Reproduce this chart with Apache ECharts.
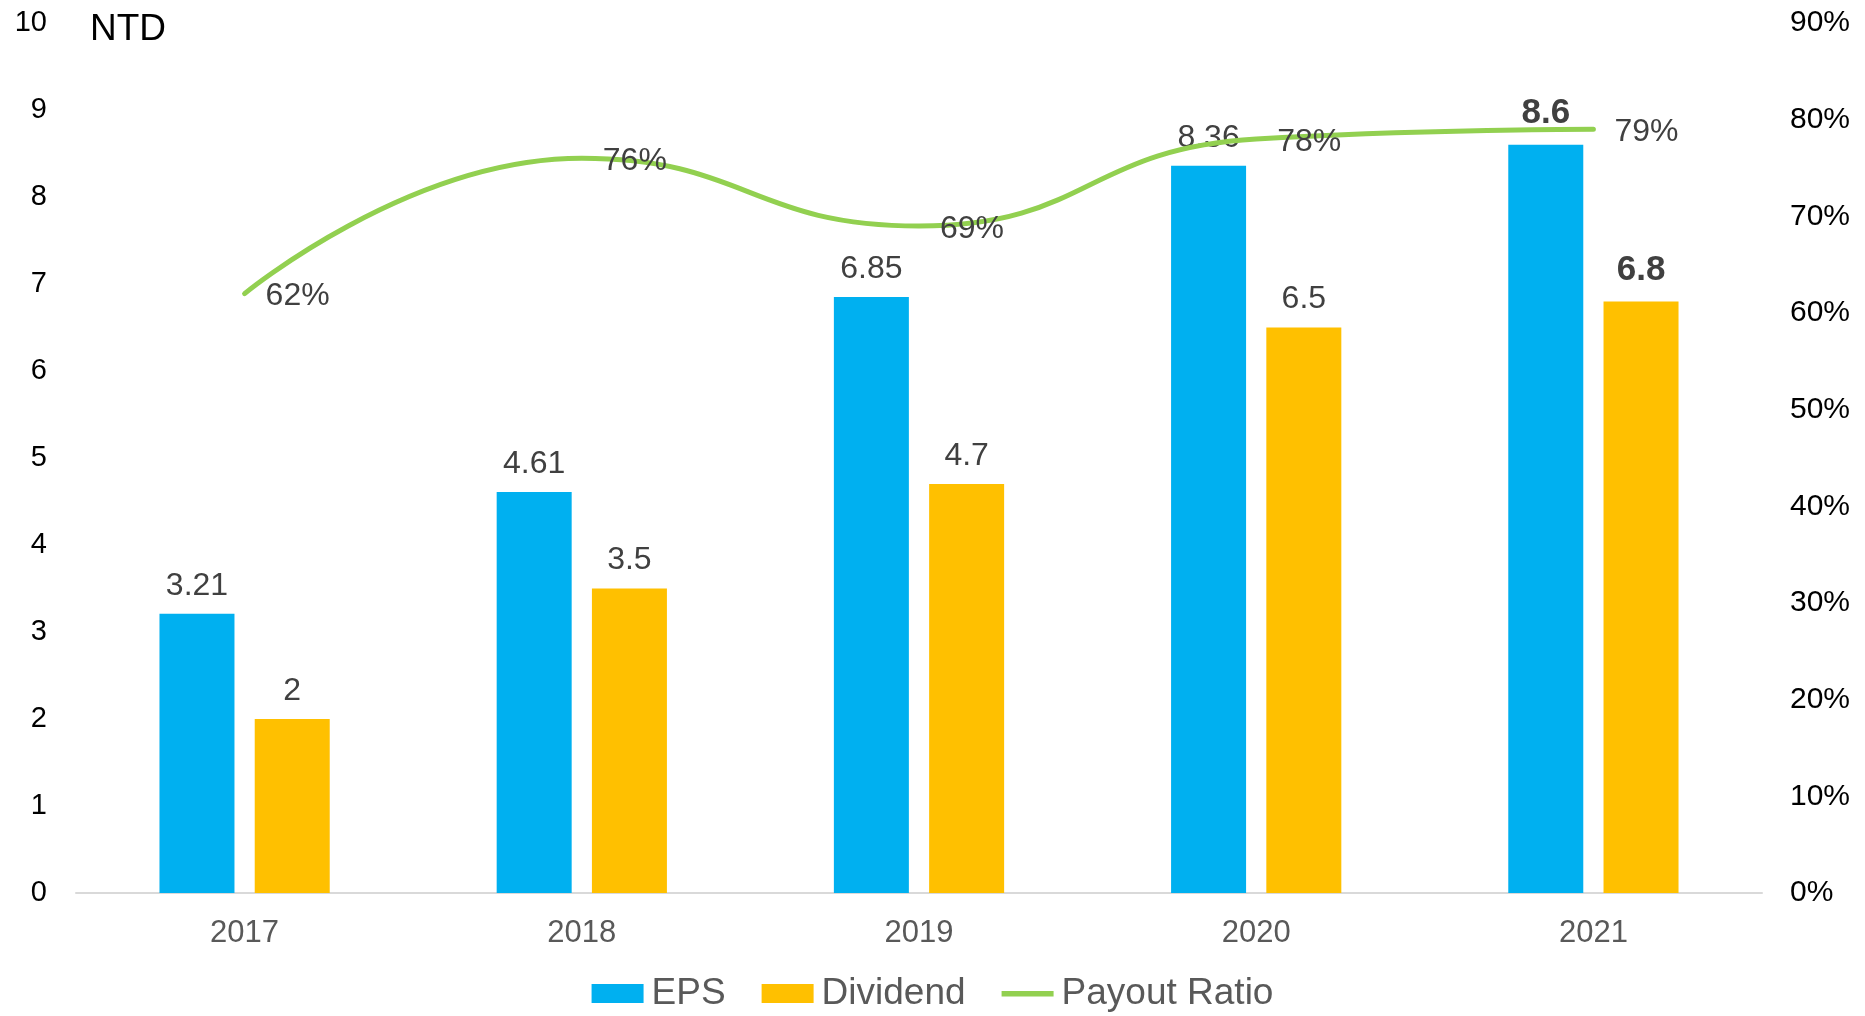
<!DOCTYPE html>
<html>
<head>
<meta charset="utf-8">
<script src="https://cdn.jsdelivr.net/npm/echarts@6/dist/echarts.min.js"></script>
<style>
html,body{margin:0;padding:0;background:#fff;}
#chart{width:1865px;height:1016px;}
</style>
</head>
<body>
<div id="chart"></div>
<script>
const years = ['2017', '2018', '2019', '2020', '2021'];
const eps = [3.21, 4.61, 6.85, 8.36, 8.6];
const dividend = [2, 3.5, 4.7, 6.5, 6.8];
const payoutRatio = [62, 76, 69, 78, 79];
const leftTicks = [0, 10, 1];
const rightTicks = [0, 90, 10];

const FONT = '"Liberation Sans", Arial, sans-serif';
const boldLast = (arr) => arr.map((v, i) => i === arr.length - 1
  ? { value: v, label: { fontWeight: 'bold', fontSize: 35, distance: 14 } }
  : v);

const chart = echarts.init(document.getElementById('chart'));
chart.setOption({
  animation: false,
  textStyle: { fontFamily: FONT },
  title: {
    text: 'NTD', left: 90, top: 11, padding: 0,
    textStyle: { fontFamily: FONT, fontSize: 37, fontWeight: 'normal', color: '#000' }
  },
  grid: { left: 76, right: 103, top: 23, bottom: 123, containLabel: false },
  legend: {
    top: 975, left: 'center', padding: 0,
    itemWidth: 52, itemHeight: 19, itemGap: 36,
    textStyle: { fontFamily: FONT, fontSize: 37, color: '#595959', padding: [0, 0, 0, 3] },
    data: [
      { name: 'EPS', icon: 'rect' },
      { name: 'Dividend', icon: 'rect' },
      { name: 'Payout Ratio', icon: 'path://M0,0 L1,0 M0,7 L52,7 L52,12.5 L0,12.5 Z M0,19 L1,19' }
    ]
  },
  xAxis: {
    type: 'category', data: years,
    axisLine: { lineStyle: { color: '#D9D9D9', width: 2 } },
    axisTick: { show: false },
    axisLabel: { fontFamily: FONT, fontSize: 31, color: '#595959', margin: 25 }
  },
  yAxis: [
    {
      type: 'value', min: leftTicks[0], max: leftTicks[1], interval: leftTicks[2],
      splitLine: { show: false }, axisLine: { show: false }, axisTick: { show: false },
      axisLabel: { fontFamily: FONT, fontSize: 29, color: '#000', margin: 29 }
    },
    {
      type: 'value', min: rightTicks[0], max: rightTicks[1], interval: rightTicks[2],
      splitLine: { show: false }, axisLine: { show: false }, axisTick: { show: false },
      axisLabel: { fontFamily: FONT, fontSize: 30, color: '#000', margin: 28, formatter: '{value}%' }
    }
  ],
  series: [
    {
      name: 'EPS', type: 'bar', yAxisIndex: 0, data: boldLast(eps),
      barWidth: 75, barGap: '27%',
      itemStyle: { color: '#00B0F0' },
      label: { show: true, position: 'top', distance: 12, fontFamily: FONT, fontSize: 32, color: '#404040' }
    },
    {
      name: 'Dividend', type: 'bar', yAxisIndex: 0, data: boldLast(dividend),
      barWidth: 75,
      itemStyle: { color: '#FFC000' },
      label: { show: true, position: 'top', distance: 12, fontFamily: FONT, fontSize: 32, color: '#404040' }
    },
    {
      name: 'Payout Ratio', type: 'line', yAxisIndex: 1, data: payoutRatio,
      smooth: 0.5, symbol: 'circle', symbolSize: 2,
      lineStyle: { color: '#92D050', width: 5, cap: 'round' },
      itemStyle: { color: '#92D050' },
      label: {
        show: true, position: 'right', distance: 20, offset: [0, 3],
        formatter: '{c}%', fontFamily: FONT, fontSize: 32, color: '#404040'
      },
      z: 3
    }
  ]
});
</script>
</body>
</html>
